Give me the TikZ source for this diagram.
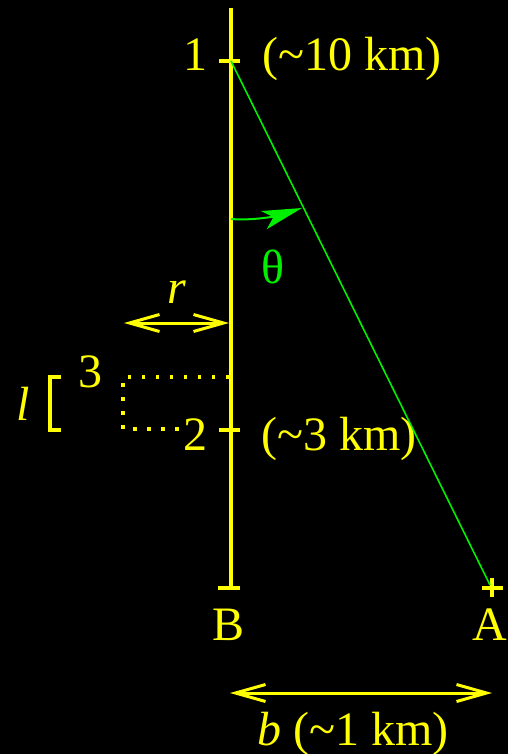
\documentclass[tikz,border=0pt]{standalone}
\usepackage{fontspec}
\setmainfont{Liberation Serif}
\usetikzlibrary{arrows.meta}
\definecolor{axisYellow}{RGB}{255,255,0}
\definecolor{rayGreen}{RGB}{0,240,0}
\tikzset{
  axline/.style={draw=axisYellow, line width=3.5pt},
  tick/.style={draw=axisYellow, line width=3.5pt},
  lbl/.style={text=axisYellow, font=\fontsize{48}{52}\selectfont, inner sep=0pt, anchor=base},
  ilbl/.style={lbl, font=\fontsize{48}{52}\selectfont\itshape},
  darr/.style={{Straight Barb[length=30pt,width=17pt]}-{Straight Barb[length=30pt,width=17pt]},
    draw=axisYellow, line width=3pt},
  dots/.style={draw=axisYellow, line width=3.5pt, dash pattern=on 3.5pt off 10.5pt},
  ray/.style={draw=rayGreen, line width=1.6pt},
  angarr/.style={draw=rayGreen, line width=2pt,
    -{Stealth[length=40pt,width=19pt,inset=10pt]}},
}

\begin{document}
\begin{tikzpicture}[x=1pt,y=-1pt]
\fill[black] (0,0) rectangle (508,754);
\useasboundingbox (0,0) rectangle (508,754);

%% AXIS
\coordinate (axTop) at (231,8);
\coordinate (axBot) at (231,588);
\coordinate (p1) at (231,61);
\coordinate (p2) at (231,430);
\coordinate (pA) at (492,588);
\draw[axline] (axTop) -- (axBot);
\draw[tick] ([xshift=-12pt]p1) -- ([xshift=9pt]p1);
\draw[tick] ([xshift=-12pt]p2) -- ([xshift=9pt]p2);
\draw[tick] ([xshift=-13pt]axBot) -- ([xshift=9pt]axBot);

%% POINT A
\draw[tick] ([xshift=-10pt]pA) -- ([xshift=11pt]pA);
\draw[tick] ([yshift=-9pt]pA) -- ([yshift=10pt]pA);

%% LABELS
\node[lbl] (one) at (195,71) {1};
\node[lbl] (oneKm) at (352,71) {(\textasciitilde10 km)};
\node[lbl] (two) at (195,450) {2};
\node[lbl] (twoKm) at (339,450) {(\textasciitilde3 km)};
\node[lbl] (labB) at (229,640) {B};
\node[lbl] (labA) at (490,640) {A};
\node[lbl] (three) at (90,387) {3};
\node[ilbl] (ell) at (23,420) {l};
\node[ilbl] (rr) at (177,303) {r};
\node[lbl] (bb) at (353,745) {\textit{b} (\textasciitilde1 km)};
\node[lbl, text=rayGreen] (theta) at (273,283) {θ};

%% RAY AND ANGLE
\coordinate (rayEnd) at (490,585);
\draw[ray] (p1) -- (rayEnd);
\coordinate (angS) at (231,219);
\coordinate (angE) at (302,208);
\draw[angarr] (angS) .. controls (255,221) and (280,215) .. (angE);

%% DISTANCES
\coordinate (rL) at (124,323);
\coordinate (rR) at (229,323);
\draw[darr] (rL) -- (rR);
\coordinate (bL) at (230,693);
\coordinate (bR) at (492,693);
\draw[darr] (bL) -- (bR);

%% SEGMENT 3 AND BRACKET
\coordinate (sTR) at (229,377);
\coordinate (sTL) at (123,377);
\coordinate (sBL) at (123,429);
\coordinate (sBR) at (186,429);
\draw[dots] (sTR) -- (sTL) -- (sBL) -- (sBR);
\draw[tick] (61,377) -- (50,377) -- (50,430) -- (61,430);

\end{tikzpicture}
\end{document}
